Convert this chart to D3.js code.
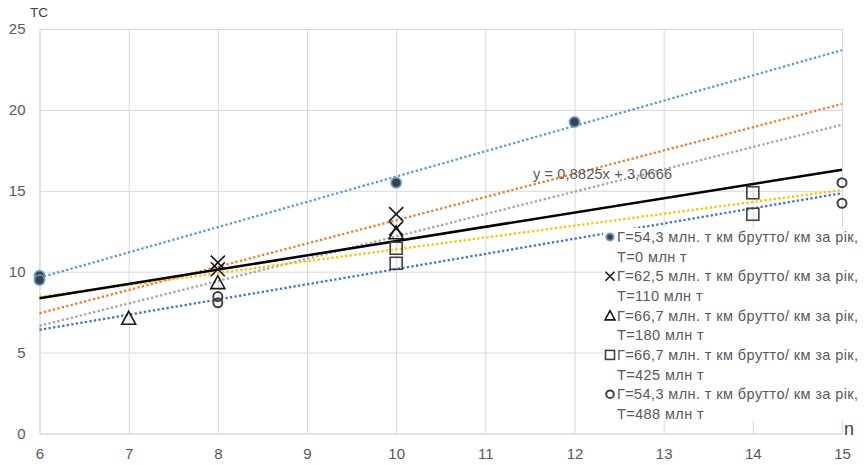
<!DOCTYPE html>
<html>
<head>
<meta charset="utf-8">
<script src="https://cdn.jsdelivr.net/npm/d3@7"></script>
<style>
  html, body { margin: 0; padding: 0; background: #fff; }
  svg { display: block; font-family: "Liberation Sans", Arial, sans-serif; }
</style>
</head>
<body>
<svg id="chart" width="866" height="465"></svg>
<script>
// Axis ticks
const xTicks = [6, 7, 8, 9, 10, 11, 12, 13, 14, 15];
const yTicks = [0, 5, 10, 15, 20, 25];

// Series 1: Г=54,3, T=0 (filled circles)
const s1X = [6, 6, 10, 12];
const s1Y = [9.75, 9.49, 15.5, 19.25];
// Series 2: Г=62,5, T=110 (crosses)
const s2X = [8, 8, 10, 10];
const s2Y = [10.56, 10.15, 13.56, 12.68];
// Series 3: Г=66,7, T=180 (triangles)
const s3X = [7, 8, 10];
const s3Y = [7.12, 9.32, 12.4];
// Series 4: Г=66,7, T=425 (squares)
const s4X = [10, 10, 14, 14];
const s4Y = [11.45, 10.52, 14.88, 13.55];
// Series 5: Г=54,3, T=488 (open circles)
const s5X = [8, 8, 15, 15];
const s5Y = [8.46, 8.08, 15.5, 14.23];

// Linear trendlines per series: y = slope * n + intercept
const trendSlopes = [1.563, 1.437, 1.381, 0.733, 0.939];
const trendIntercepts = [0.25, -1.19, -1.63, 4.05, 0.77];
const trendColors = ["#5B9BD5", "#ED7D31", "#A5A5A5", "#FFC000", "#4472C4"];

// Overall trendline
const overallSlope = 0.8825;
const overallIntercept = 3.0666;
const overallLabel = "y = 0,8825x + 3,0666";

const legendLines = [
  ["Г=54,3 млн. т км брутто/ км за рік,", "T=0 млн т"],
  ["Г=62,5 млн. т км брутто/ км за рік,", "T=110 млн т"],
  ["Г=66,7 млн. т км брутто/ км за рік,", "T=180 млн т"],
  ["Г=66,7 млн. т км брутто/ км за рік,", "T=425 млн т"],
  ["Г=54,3 млн. т км брутто/ км за рік,", "T=488 млн т"]
];

const yTitle = "ТС";
const xTitle = "n";

const svg = d3.select("#chart");
const plotLeft = 39.5, plotRight = 842, plotTop = 29, plotBottom = 433.5;
const x = d3.scaleLinear().domain([6, 15]).range([plotLeft, plotRight]);
const y = d3.scaleLinear().domain([0, 25]).range([plotBottom, plotTop]);
const textColor = "#595959";
const markColor = "#404040";

// Grid
const grid = svg.append("g");
grid.append("g")
  .attr("transform", `translate(0,${plotBottom})`)
  .call(d3.axisBottom(x).tickValues(xTicks).tickSize(-(plotBottom - plotTop)).tickFormat(""))
  .call(g => g.select(".domain").attr("stroke", "#d9d9d9"))
  .call(g => g.selectAll(".tick line").attr("stroke", "#d9d9d9"));
grid.append("g")
  .attr("transform", `translate(${plotLeft},0)`)
  .call(d3.axisLeft(y).tickValues(yTicks).tickSize(-(plotRight - plotLeft)).tickFormat(""))
  .call(g => g.select(".domain").remove())
  .call(g => g.selectAll(".tick line").attr("stroke", "#d9d9d9"));

// Tick labels
svg.append("g")
  .attr("transform", `translate(0,${plotBottom})`)
  .call(d3.axisBottom(x).tickValues(xTicks).tickSize(0).tickPadding(15).tickFormat(d3.format("d")))
  .call(g => g.select(".domain").remove())
  .call(g => g.selectAll("text").attr("fill", textColor).attr("font-size", 15)
    .attr("font-family", "'Liberation Sans', Arial, sans-serif"));
svg.append("g")
  .attr("transform", `translate(${plotLeft},0)`)
  .call(d3.axisLeft(y).tickValues(yTicks).tickSize(0).tickPadding(14).tickFormat(d3.format("d")))
  .call(g => g.select(".domain").remove())
  .call(g => g.selectAll("text").attr("fill", textColor).attr("font-size", 15)
    .attr("font-family", "'Liberation Sans', Arial, sans-serif"));

// Axis titles
svg.append("text").attr("x", 39).attr("y", 17).attr("text-anchor", "middle")
  .attr("font-size", 13.5).attr("fill", "#404040").text(yTitle);
svg.append("text").attr("x", 844).attr("y", 435)
  .attr("font-size", 18).attr("fill", "#404040").text(xTitle);

// Trendlines (dotted)
const trendLayer = svg.append("g");
trendSlopes.forEach((m, i) => {
  const b = trendIntercepts[i];
  trendLayer.append("line")
    .attr("x1", x(6)).attr("y1", y(m * 6 + b))
    .attr("x2", x(15)).attr("y2", y(m * 15 + b))
    .attr("stroke", trendColors[i]).attr("stroke-width", 2.3)
    .attr("stroke-dasharray", "2.3,2.3");
});
// Overall trendline (solid black)
svg.append("line")
  .attr("x1", x(6)).attr("y1", y(overallSlope * 6 + overallIntercept))
  .attr("x2", x(15)).attr("y2", y(overallSlope * 15 + overallIntercept))
  .attr("stroke", "#000").attr("stroke-width", 2.5);

// Marker drawers
function filledCircle(g, cx, cy, r) {
  g.append("circle").attr("cx", cx).attr("cy", cy).attr("r", r)
    .attr("fill", markColor).attr("stroke", "#5B9BD5").attr("stroke-width", 2).attr("stroke-opacity", 0.85);
}
function cross(g, cx, cy, s) {
  g.append("path").attr("d", `M${cx - s},${cy - s}L${cx + s},${cy + s}M${cx - s},${cy + s}L${cx + s},${cy - s}`)
    .attr("stroke", "#1a1a1a").attr("stroke-width", 1.6).attr("fill", "none");
}
function triangle(g, cx, cy, s) {
  g.append("path").attr("d", `M${cx},${cy - s}L${cx + s},${cy + s * 0.85}L${cx - s},${cy + s * 0.85}Z`)
    .attr("stroke", "#1a1a1a").attr("stroke-width", 1.6).attr("fill", "none");
}
function square(g, cx, cy, s) {
  g.append("rect").attr("x", cx - s).attr("y", cy - s).attr("width", 2 * s).attr("height", 2 * s)
    .attr("stroke", markColor).attr("stroke-width", 1.6).attr("fill", "none");
}
function openCircle(g, cx, cy, r) {
  g.append("circle").attr("cx", cx).attr("cy", cy).attr("r", r)
    .attr("stroke", markColor).attr("stroke-width", 2).attr("fill", "none");
}

// Data points
const pts = svg.append("g");
s1X.forEach((d, i) => filledCircle(pts, x(d), y(s1Y[i]), 5));
s2X.forEach((d, i) => cross(pts, x(d), y(s2Y[i]), 7));
s3X.forEach((d, i) => triangle(pts, x(d), y(s3Y[i]), 7));
s4X.forEach((d, i) => square(pts, x(d), y(s4Y[i]), 6));
s5X.forEach((d, i) => openCircle(pts, x(d), y(s5Y[i]), 4.5));

// Equation label
svg.append("text").attr("x", 533).attr("y", 179)
  .attr("font-size", 14.5).attr("letter-spacing", 0.15).attr("fill", textColor).text(overallLabel);

// Legend
const legend = svg.append("g");
legend.append("rect").attr("x", 603).attr("y", 228).attr("width", 259).attr("height", 193).attr("fill", "#fff");
const legendMarkers = [
  (g, cx, cy) => filledCircle(g, cx, cy, 3.6),
  (g, cx, cy) => cross(g, cx, cy, 4.5),
  (g, cx, cy) => triangle(g, cx, cy, 5),
  (g, cx, cy) => square(g, cx, cy, 4.5),
  (g, cx, cy) => openCircle(g, cx, cy, 3.8)
];
legendLines.forEach((lines, i) => {
  const cy = 237 + i * 39.3;
  legendMarkers[i](legend, 610, cy);
  lines.forEach((t, j) => {
    legend.append("text").attr("x", 617).attr("y", cy + j * 19.6)
      .attr("dy", "0.35em").attr("font-size", 14.5).attr("letter-spacing", 0.4)
      .attr("fill", textColor).text(t);
  });
});
</script>
</body>
</html>
